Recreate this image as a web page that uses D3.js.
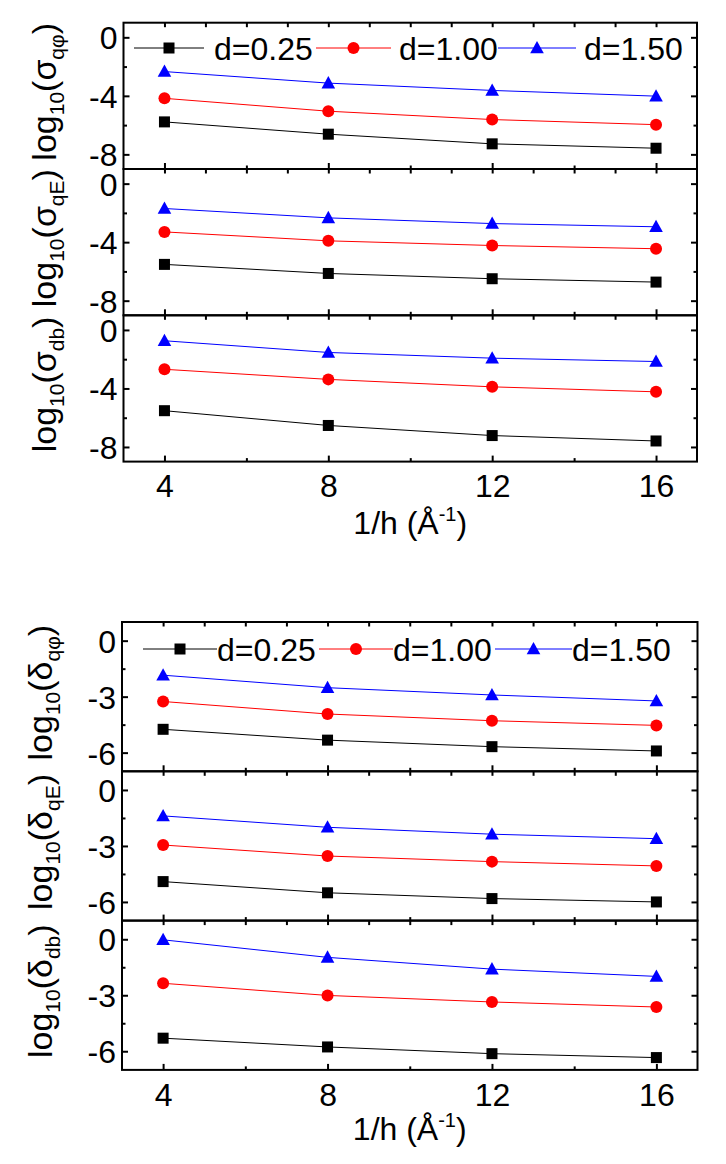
<!DOCTYPE html>
<html><head><meta charset="utf-8">
<script src="https://cdn.jsdelivr.net/npm/d3@7"></script>
<style>body{margin:0;background:#fff}svg{display:block}text{font-family:Arial,"Liberation Sans",sans-serif}</style>
</head><body>
<svg id="c" width="726" height="1164"></svg>
<script>
// ---------- data ----------
const invH = [4, 8, 12, 16];
const seriesNames = ["d=0.25", "d=1.00", "d=1.50"];
const seriesColors = ["#000000", "#ff0000", "#0000ff"];
const seriesShapes = ["square", "circle", "triangle"];
const xTicks = [4, 8, 12, 16];
const xMinorTicks = [6, 10, 14];

// sigma figure (top)
const sigmaQPhi = [[-5.78, -6.62, -7.28, -7.58], [-4.17, -5.05, -5.62, -5.97], [-2.34, -3.13, -3.63, -4.02]];
const sigmaQE   = [[-5.52, -6.14, -6.50, -6.73], [-3.30, -3.91, -4.23, -4.45], [-1.70, -2.34, -2.73, -2.95]];
const sigmaDb   = [[-5.52, -6.53, -7.22, -7.59], [-2.69, -3.38, -3.89, -4.23], [-0.74, -1.54, -1.93, -2.16]];
const sigmaYTicks = [0, -4, -8];
const sigmaYMinor = [-2, -6];

// delta figure (bottom)
const deltaQPhi = [[-4.75, -5.33, -5.68, -5.91], [-3.26, -3.93, -4.29, -4.54], [-1.85, -2.52, -2.91, -3.23]];
const deltaQE   = [[-4.91, -5.51, -5.82, -6.00], [-2.95, -3.54, -3.84, -4.07], [-1.39, -2.00, -2.37, -2.61]];
const deltaDb   = [[-5.30, -5.77, -6.13, -6.34], [-2.36, -3.01, -3.36, -3.63], [-0.03, -0.97, -1.60, -1.99]];
const deltaYTicks = [0, -3, -6];
const deltaYMinor = [-1.5, -4.5];

const sigmaSubs = ["q\u03C6", "qE", "db"];
const deltaSubs = ["q\u03C6", "qE", "db"];

// ---------- drawing ----------
const svg = d3.select("#c");
const FS = 32;

function marker(g, shape, x, y, color) {
  if (shape === "square") {
    g.append("rect").attr("x", x - 5.5).attr("y", y - 5.5).attr("width", 11).attr("height", 11).attr("fill", color);
  } else if (shape === "circle") {
    g.append("circle").attr("cx", x).attr("cy", y).attr("r", 6).attr("fill", color);
  } else {
    g.append("path").attr("d", `M${x},${y - 7}L${x + 6.8},${y + 5.3}L${x - 6.8},${y + 5.3}Z`).attr("fill", color);
  }
}

function ticks(sel) { sel.select(".domain").remove(); sel.selectAll("line").attr("stroke-width", 2); }

function drawFigure(cfg) {
  const x = d3.scaleLinear().domain([3, 17]).range([cfg.left, cfg.right]);
  cfg.panels.forEach((p, i) => {
    const top = cfg.top + i * cfg.panelH, bot = top + cfg.panelH;
    const y = d3.scaleLinear().domain(cfg.yDomain).range([bot, top]);
    const g = svg.append("g");
    // left axis
    const gl = g.append("g").attr("transform", `translate(${cfg.left},0)`)
      .call(d3.axisLeft(y).tickValues(cfg.yTicks).tickSize(-6).tickFormat(d3.format("d")));
    gl.call(ticks);
    gl.selectAll("text").attr("font-size", FS).attr("fill", "#000").attr("x", -6).attr("dy", "0.36em").text(d => String(d));
    g.append("g").attr("transform", `translate(${cfg.left},0)`).call(d3.axisLeft(y).tickValues(cfg.yMinor).tickSize(-3.5).tickFormat("")).call(ticks);
    // right axis
    g.append("g").attr("transform", `translate(${cfg.right},0)`).call(d3.axisRight(y).tickValues(cfg.yTicks).tickSize(-6).tickFormat("")).call(ticks);
    g.append("g").attr("transform", `translate(${cfg.right},0)`).call(d3.axisRight(y).tickValues(cfg.yMinor).tickSize(-3.5).tickFormat("")).call(ticks);
    // bottom axis ticks (inward)
    const last = i === cfg.panels.length - 1;
    const gb = g.append("g").attr("transform", `translate(0,${bot})`)
      .call(d3.axisBottom(x).tickValues(xTicks).tickSize(-6).tickFormat(last ? d3.format("d") : ""));
    gb.call(ticks);
    gb.selectAll("text").attr("font-size", FS).attr("fill", "#000").attr("y", 13).attr("dy", "0.71em");
    g.append("g").attr("transform", `translate(0,${bot})`).call(d3.axisBottom(x).tickValues(xMinorTicks).tickSize(-3.5).tickFormat("")).call(ticks);
    // top axis ticks (inward, every unit)
    g.append("g").attr("transform", `translate(0,${top})`).call(d3.axisTop(x).tickValues(d3.range(4, 17)).tickSize(-4.5).tickFormat("")).call(ticks);
    // frame
    g.append("rect").attr("x", cfg.left).attr("y", top).attr("width", cfg.right - cfg.left).attr("height", cfg.panelH)
      .attr("fill", "none").attr("stroke", "#000").attr("stroke-width", 2);
    // series
    p.data.forEach((vals, si) => {
      const line = d3.line().x((d, k) => x(invH[k])).y(d => y(d));
      g.append("path").attr("d", line(vals)).attr("fill", "none").attr("stroke", seriesColors[si]).attr("stroke-width", 1);
      vals.forEach((v, k) => marker(g, seriesShapes[si], x(invH[k]), y(v), seriesColors[si]));
    });
    // y label
    const cy = (top + bot) / 2 - 4;
    const t = g.append("text").attr("transform", `translate(${cfg.labelX},${cy}) rotate(-90)`)
      .attr("text-anchor", "middle").attr("font-size", 34).attr("fill", "#000");
    t.append("tspan").text("log");
    t.append("tspan").attr("font-size", 21).attr("dy", 8).text("10");
    t.append("tspan").attr("dy", -8).text("(" + cfg.sym);
    t.append("tspan").attr("font-size", 21).attr("dy", 8).text(p.sub);
    t.append("tspan").attr("dy", -8).text(")");
  });
  // legend
  const lg = svg.append("g");
  cfg.legend.forEach((L, si) => {
    lg.append("line").attr("x1", L.x1).attr("x2", L.x2).attr("y1", cfg.legendY).attr("y2", cfg.legendY)
      .attr("stroke", seriesColors[si]).attr("stroke-width", 1);
    marker(lg, seriesShapes[si], (L.x1 + L.x2) / 2, cfg.legendY, seriesColors[si]);
    lg.append("text").attr("x", L.tx).attr("y", cfg.legendY).attr("dy", "0.36em").attr("font-size", FS).attr("fill", "#000").text(seriesNames[si]);
  });
  // x label
  const bottom = cfg.top + cfg.panels.length * cfg.panelH;
  const xt = svg.append("text").attr("x", (cfg.left + cfg.right) / 2).attr("y", bottom + cfg.xLabelDy)
    .attr("text-anchor", "middle").attr("font-size", FS).attr("fill", "#000");
  xt.append("tspan").text("1/h (\u00C5");
  xt.append("tspan").attr("font-size", 20).attr("dy", -13).text("-1");
  xt.append("tspan").attr("dy", 13).text(")");
}

drawFigure({
  left: 123.5, right: 697, top: 22.7, panelH: 146.3, yDomain: [-9, 1],
  yTicks: sigmaYTicks, yMinor: sigmaYMinor, sym: "\u03C3", labelX: 56, xLabelDy: 72,
  panels: [{data: sigmaQPhi, sub: sigmaSubs[0]}, {data: sigmaQE, sub: sigmaSubs[1]}, {data: sigmaDb, sub: sigmaSubs[2]}],
  legendY: 48,
  legend: [{x1: 134, x2: 204, tx: 214}, {x1: 316, x2: 391, tx: 399}, {x1: 498, x2: 576, tx: 584}]
});
drawFigure({
  left: 122, right: 697.5, top: 622, panelH: 149.3, yDomain: [-7, 1],
  yTicks: deltaYTicks, yMinor: deltaYMinor, sym: "\u03B4", labelX: 52, xLabelDy: 70,
  panels: [{data: deltaQPhi, sub: deltaSubs[0]}, {data: deltaQE, sub: deltaSubs[1]}, {data: deltaDb, sub: deltaSubs[2]}],
  legendY: 649,
  legend: [{x1: 143, x2: 217, tx: 217}, {x1: 319, x2: 393, tx: 393}, {x1: 495, x2: 572, tx: 572}]
});
</script>
</body></html>
